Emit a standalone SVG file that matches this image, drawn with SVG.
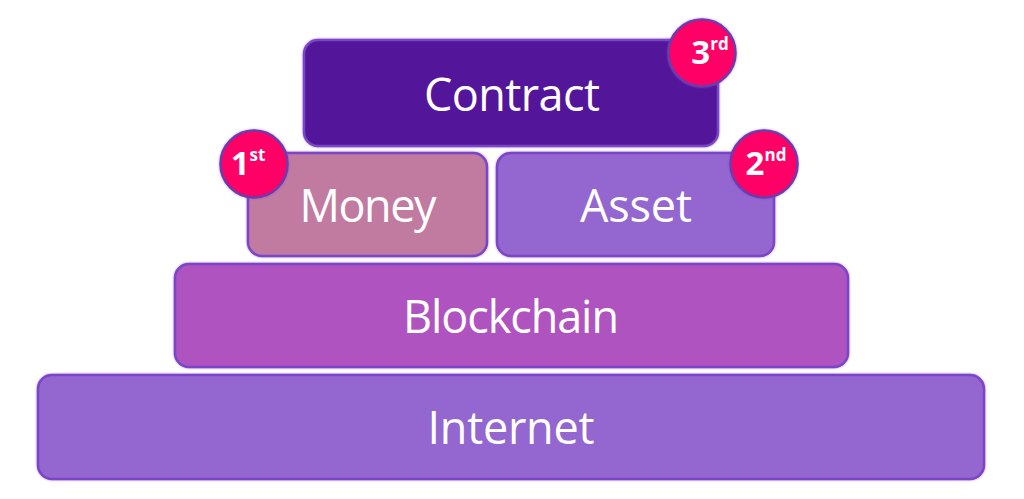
<svg xmlns="http://www.w3.org/2000/svg" width="1024" height="499" viewBox="0 0 1024 499">
<defs>
<filter id="glow" x="-5%" y="-5%" width="110%" height="110%">
<feGaussianBlur in="SourceAlpha" stdDeviation="1.2" result="b"/>
<feFlood flood-color="#7b45c9" flood-opacity="0.6"/>
<feComposite in2="b" operator="in" result="s"/>
<feMerge><feMergeNode in="s"/><feMergeNode in="SourceGraphic"/></feMerge>
</filter>
</defs>
<style>
.box{stroke:#7c44c8;stroke-width:2.5;filter:url(#glow)}
.lbl{font-family:"Open Sans","Noto Sans",sans-serif;font-size:45px;fill:#ffffff;text-anchor:middle}
.badge{fill:#ff0066;stroke:#6e3aab;stroke-width:2.5;filter:url(#glow)}
.num{font-family:"Open Sans","Noto Sans",sans-serif;font-weight:bold;fill:#ffffff}
</style>
<rect width="1024" height="499" fill="#ffffff"/>
<g id="internet">
<rect class="box" x="38" y="375" width="946" height="104" rx="14" fill="#9466d0"/>
<text class="lbl" x="511" y="444" textLength="167">Internet</text>
</g>
<g id="blockchain">
<rect class="box" x="175" y="264" width="673" height="103" rx="14" fill="#af52c0"/>
<text class="lbl" x="511" y="333" textLength="216">Blockchain</text>
</g>
<g id="money">
<rect class="box" x="248" y="153" width="239" height="103" rx="14" fill="#c17aa0"/>
<text class="lbl" x="368" y="222" textLength="137">Money</text>
</g>
<g id="asset">
<rect class="box" x="497" y="153" width="277" height="103" rx="14" fill="#9466d0"/>
<text class="lbl" x="636" y="222" textLength="112">Asset</text>
</g>
<g id="contract">
<rect class="box" x="304" y="40" width="414" height="106" rx="14" fill="#52199b"/>
<text class="lbl" x="512" y="111" textLength="176">Contract</text>
</g>
<g id="badge1">
<circle class="badge" cx="254" cy="164" r="33.5"/>
<text class="num" x="248" y="175" font-size="33" text-anchor="middle">1<tspan font-size="17" dy="-14">st</tspan></text>
</g>
<g id="badge2">
<circle class="badge" cx="764" cy="164" r="33.5"/>
<text class="num" x="766" y="175" font-size="33" text-anchor="middle">2<tspan font-size="17" dy="-14">nd</tspan></text>
</g>
<g id="badge3">
<circle class="badge" cx="702" cy="53" r="33.5"/>
<text class="num" x="710" y="64" font-size="33" text-anchor="middle">3<tspan font-size="17" dy="-14">rd</tspan></text>
</g>
<g id="connectors"/>
</svg>
